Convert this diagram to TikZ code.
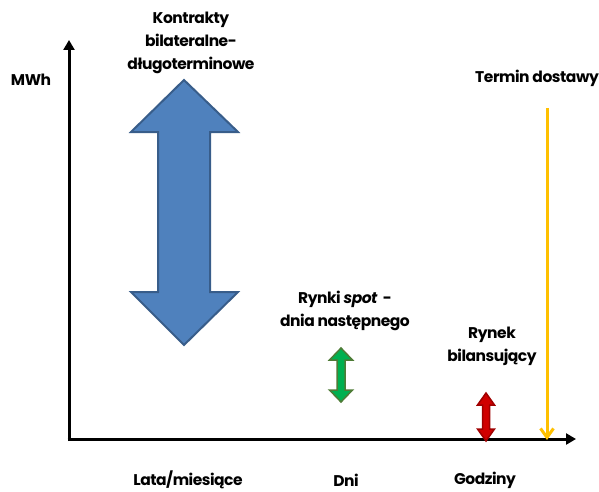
\documentclass[tikz,border=0pt]{standalone}
\usepackage{fontspec}
\setmainfont{Poppins}[LetterSpace=-3]
\usetikzlibrary{arrows.meta}
\definecolor{bigfill}{HTML}{4F81BD}
\definecolor{bigdraw}{HTML}{385D8A}
\definecolor{grfill}{HTML}{00B050}
\definecolor{grdraw}{HTML}{4E7B36}
\definecolor{rdfill}{HTML}{D00000}
\definecolor{rddraw}{HTML}{A00000}
\definecolor{yel}{HTML}{FFC000}
\tikzset{
  axis/.style={line width=3pt,-{Triangle[length=10pt,width=11pt]}},
  lbl/.style={font=\fontsize{15.5}{23}\selectfont\bfseries,align=center,inner sep=0pt},
}
\begin{document}
\begin{tikzpicture}[x=1pt,y=-1pt]
\useasboundingbox (0,0) rectangle (599,492);
% axes
\coordinate (ytop) at (69,40);
\coordinate (ystart) at (69,441);
\coordinate (xstart) at (67.5,439);
\coordinate (xend) at (576,439);
\draw[axis] (ystart) -- (ytop);
\draw[axis] (xstart) -- (xend);
% big arrow
\draw[fill=bigfill,draw=bigdraw,line width=2pt,line join=miter]
  (184,80) -- (238,132) -- (210,132) -- (210,292) -- (238,292) -- (184,345)
  -- (131,292) -- (158,292) -- (158,132) -- (131,132) -- cycle;
% green arrow
\draw[fill=grfill,draw=grdraw,line width=1.5pt,line join=miter]
  (341,348) -- (352.5,360) -- (345,360) -- (345,390) -- (352.5,390) -- (341,402)
  -- (329.5,390) -- (337,390) -- (337,360) -- (329.5,360) -- cycle;
% red arrow
\draw[fill=rdfill,draw=rddraw,line width=1.5pt,line join=miter]
  (486,393) -- (494.5,405) -- (489.5,405) -- (489.5,429) -- (494.5,429) -- (486,441)
  -- (477.5,429) -- (482.5,429) -- (482.5,405) -- (477.5,405) -- cycle;
% yellow delivery line
\coordinate (ytopl) at (547,108);
\coordinate (ybot) at (547,440);
\draw[yel,line width=3pt,-{Straight Barb[length=9pt,width=13pt,line width=3pt]}] (ytopl) -- (ybot);
% labels
\node[lbl] (mwh) at (31,80) {MWh};
\node[lbl] (kontr) at (191,43) {Kontrakty\\bilateralne-\\długoterminowe};
\node[lbl] (term) at (537,78) {Termin dostawy};
\node[lbl] (spot) at (345,311) {Rynki \textit{spot}\ \ -\\dnia następnego};
\node[lbl] (bil) at (492,346) {Rynek\\bilansujący};
\node[lbl] (lata) at (188,480) {Lata/miesiące};
\node[lbl] (dni) at (346,480) {Dni};
\node[lbl] (godz) at (485,480) {Godziny};
\end{tikzpicture}
\end{document}
